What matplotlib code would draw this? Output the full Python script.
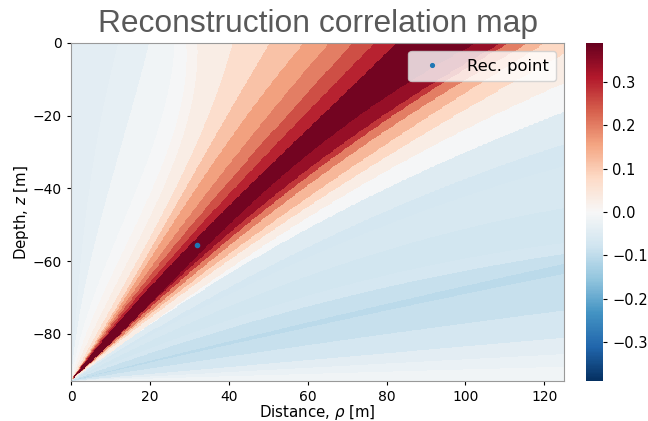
import numpy as np
import matplotlib
matplotlib.use('Agg')
import matplotlib.pyplot as plt

# Fan of colour bands opening from the source at the bottom left.
source_z = -93.0
vmax = 0.39

# upper fan: distance of each band boundary at these depths
upper_depths = [-93, -80, -60, -40, -20, 0]
rho_at_80 = [0, 1.0, 2.0, 3.5, 4.5, 5.5, 6.5, 7.3, 8.0, 8.8, 9.4, 10.0, 10.6, 11.8, 12.3, 13.0, 13.8, 15.0, 16.0, 17.5, 18.5]
rho_at_60 = [0, 2.5, 5.0, 9.0, 12.0, 14.3, 17.0, 19.0, 20.7, 22.5, 24.0, 25.5, 27.0, 31.6, 32.8, 34.0, 36.0, 38.0, 40.0, 43.0, 45.6]
rho_at_40 = [0, 4.5, 8.8, 16.0, 20.0, 23.4, 26.3, 28.5, 30.0, 33.0, 36.0, 39.0, 42.0, 50.0, 53.0, 55.5, 58.0, 62.0, 66.0, 72.0, 78.0]
rho_at_20 = [0, 8.0, 15.8, 24.0, 28.0, 30.0, 35.0, 40.0, 46.0, 52.0, 57.0, 61.3, 66.0, 73.0, 80.0, 82.4, 86.7, 92.6, 99.0, 108.0, 125.0]
rho_at_0 = [0, 12.0, 19.6, 26.0, 29.0, 32.0, 41.0, 50.4, 58.8, 65.0, 71.0, 76.5, 82.0, 103.0, 109.0, 111.0, 116.0, 120.0, 130.0, 150.0, 175.0]
upper_values = [-0.04, -0.035, -0.015, -0.005, 0.01, 0.03, 0.07, 0.115, 0.16, 0.2, 0.25, 0.3, 0.375,
                0.34, 0.28, 0.2, 0.13, 0.08, 0.03, -0.005]

# lower fan: depth of each band boundary at these distances
lower_dists = [0, 25, 60, 125]
z_at_25 = [-77, -78, -80, -81.5, -83, -85, -85.7, -87.5, -89.5, -90.5, -91.5, -93]
z_at_60 = [-56, -59, -64, -70, -73, -77.7, -79, -84, -88, -90, -91.5, -93]
z_at_125 = [-28, -34, -45.5, -55, -58, -60.7, -63.4, -73.5, -81, -85.5, -89, -93]
lower_values = [-0.05, -0.07, -0.065, -0.075, -0.07, -0.09, -0.105, -0.09, -0.07, -0.04, -0.025, -0.015]

point_rho = [32]
point_z = [-55.5]

x_ticks = [0, 20, 40, 60, 80, 100, 120]
y_ticks = [0, -20, -40, -60, -80]
cbar_ticks = [-0.3, -0.2, -0.1, 0.0, 0.1, 0.2, 0.3]


def smooth_curve(grid, where, row, deg=3):
    # a low order fit keeps the read points from showing up as kinks
    weights = np.ones(len(where))
    weights[0] = 10
    return np.polyval(np.polyfit(where, row, deg, w=weights), grid)


# upper mesh, boundaries as rho(z)
z_grid = np.linspace(source_z, 0, 300)
rho_table = np.array([np.zeros(len(rho_at_80)), rho_at_80, rho_at_60, rho_at_40, rho_at_20, rho_at_0]).T
X_up = np.array([smooth_curve(z_grid, upper_depths, row) for row in rho_table])
X_up = np.maximum(np.maximum.accumulate(X_up, axis=0), 0)
Z_up = np.tile(z_grid, (len(rho_table), 1))
C_up = np.tile(np.array(upper_values)[:, None], (1, len(z_grid) - 1))

# lower mesh, boundaries as z(rho), the first one is the last boundary of the upper fan
rho_grid = np.linspace(0, 125, 300)
Z_low = [np.interp(rho_grid, X_up[-1], z_grid)]
for row in zip(z_at_25, z_at_60, z_at_125):
    Z_low.append(smooth_curve(rho_grid, lower_dists, [source_z] + list(row), deg=2))
Z_low = np.clip(np.array(Z_low), source_z, 0)
Z_low = np.minimum.accumulate(Z_low, axis=0)
X_low = np.tile(rho_grid, (len(Z_low), 1))
C_low = np.tile(np.array(lower_values)[:, None], (1, len(rho_grid) - 1))

fig = plt.figure(figsize=(6.48, 4.21), dpi=100)
ax = fig.add_axes([71 / 648, 1 - 381 / 421, 493 / 648, 338 / 421])
mesh = ax.pcolormesh(X_up, Z_up, C_up, cmap='RdBu_r', vmin=-vmax, vmax=vmax, shading='flat', antialiased=False)
ax.pcolormesh(X_low, Z_low, C_low, cmap='RdBu_r', vmin=-vmax, vmax=vmax, shading='flat', antialiased=False)
ax.plot(point_rho, point_z, 'o', color='tab:blue', markersize=3, label='Rec. point')
ax.set_xlim(0, 125)
ax.set_ylim(source_z, 0)
ax.set_xticks(x_ticks)
ax.set_yticks(y_ticks)
ax.tick_params(labelsize=10, length=3, width=0.8)
ax.set_xlabel(r'Distance, $\rho$ [m]', fontsize=10.8)
ax.xaxis.set_label_coords(0.5, -0.066)
ax.set_ylabel('Depth, $z$ [m]', fontsize=10.8, labelpad=1)
for spine in ax.spines.values():
    spine.set_color('#999999')
ax.legend(loc='upper right', fontsize=11.8, markerscale=0.9, handletextpad=1.1, borderpad=0.45)

cax = fig.add_axes([586 / 648, 1 - 381 / 421, 17 / 648, 338 / 421])
cbar = fig.colorbar(mesh, cax=cax, ticks=cbar_ticks)
cbar.ax.tick_params(labelsize=10.5, length=3, width=0.8)
cbar.outline.set_visible(False)

fig.text(318 / 648, 1 - 24 / 421, 'Reconstruction correlation map', ha='center', va='center',
         fontsize=22.9, color='#595959', family='Liberation Sans')

fig.savefig('out.png', dpi=100)
